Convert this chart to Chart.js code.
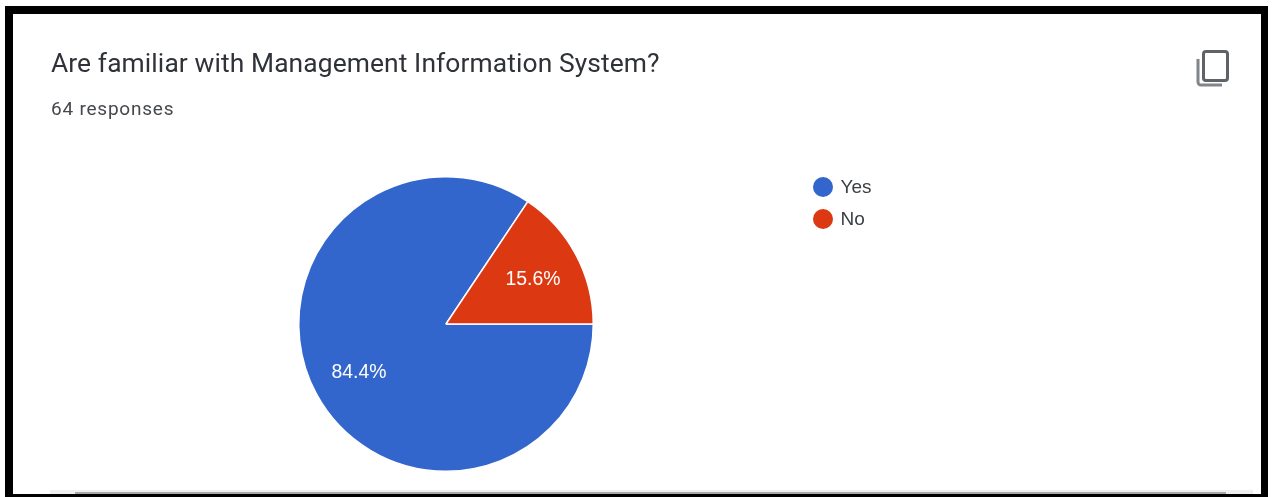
<!DOCTYPE html>
<html>
<head>
<meta charset="utf-8">
<title>Survey response</title>
<script src="https://cdn.jsdelivr.net/npm/chart.js@4"></script>
<style>
  html, body { margin: 0; padding: 0; background: #fff; }
  body { position: relative; width: 1272px; height: 497px; overflow: hidden; font-family: Roboto, sans-serif; }
  #frame { position: absolute; left: 5px; top: 6px; border: solid #000; border-width: 8px 7px 3px 8px; box-sizing: content-box; width: 1248px; height: 480px; }
  #chart { position: absolute; left: 0; top: 0; }
  #title { position: absolute; left: 51px; top: 47px; font-size: 26.4px; line-height: 32px; color: #2f3237; white-space: nowrap; letter-spacing: 0.1px; }
  #count { position: absolute; left: 51px; top: 97px; font-size: 19px; line-height: 24px; color: #45484d; white-space: nowrap; letter-spacing: 0.78px; }
  #copy { position: absolute; left: 1195px; top: 49px; }
  #legend { position: absolute; left: 812.5px; top: 170.5px; font-size: 19px; font-family: "Liberation Sans", Arial, sans-serif; color: #3c4043; }
  .row { display: flex; align-items: center; height: 32px; }
  .dot { width: 20px; height: 20px; border-radius: 50%; margin-right: 8px; }
  #rule { position: absolute; left: 50px; top: 490px; width: 1203px; height: 4px; background: #efefef; }
  #rule div { position: absolute; left: 25px; top: 2px; width: 1151px; height: 2px; background: #a9a9a9; }
</style>
</head>
<body>
<canvas id="chart" width="1272" height="497"></canvas>
<div id="frame"></div>
<div id="title">Are familiar with Management Information System?</div>
<div id="count">64 responses</div>
<svg id="copy" width="36" height="40" viewBox="0 0 36 40" fill="none">
  <rect x="8.5" y="2.5" width="24" height="29" rx="2.5" stroke="#5f6368" stroke-width="3"></rect>
  <path d="M3 10 V33 a3 3 0 0 0 3 3 H27" stroke="#80868b" stroke-width="3"></path>
</svg>
<div id="legend"></div>
<div id="rule"><div></div></div>
<script>
const categories = ['Yes', 'No'];
const responses = [54, 10];
const percentLabels = ['84.4%', '15.6%'];
const sliceColors = ['#3366cc', '#dc3912'];

// Writes each slice's percentage inside the slice, about two thirds of the way out.
const sliceLabels = {
  id: 'sliceLabels',
  afterDatasetsDraw(chart) {
    const { ctx } = chart;
    chart.getDatasetMeta(0).data.forEach((arc, i) => {
      const { startAngle, endAngle, outerRadius, x, y } = arc.getProps(['startAngle', 'endAngle', 'outerRadius', 'x', 'y'], true);
      const mid = (startAngle + endAngle) / 2;
      const r = outerRadius * 0.67;
      ctx.save();
      ctx.fillStyle = '#fff';
      ctx.font = '19.4px "Liberation Sans", Arial, sans-serif';
      ctx.textAlign = 'center';
      ctx.textBaseline = 'middle';
      ctx.fillText(percentLabels[i], x + Math.cos(mid) * r, y + Math.sin(mid) * r + 2);
      ctx.restore();
    });
  }
};

const chart = new Chart(document.getElementById('chart'), {
  type: 'pie',
  data: {
    labels: categories,
    datasets: [{
      data: responses,
      backgroundColor: sliceColors,
      borderColor: '#ffffff',
      borderWidth: 1.5
    }]
  },
  options: {
    responsive: false,
    animation: false,
    rotation: 90,
    layout: { padding: { left: 298, top: 176, right: 678, bottom: 25 } },
    plugins: { legend: { display: false }, tooltip: { enabled: false } }
  },
  plugins: [sliceLabels]
});

// Legend rows built from the chart's own label items.
const legendBox = document.getElementById('legend');
Chart.overrides.pie.plugins.legend.labels.generateLabels(chart).forEach(item => {
  const row = document.createElement('div');
  row.className = 'row';
  const dot = document.createElement('span');
  dot.className = 'dot';
  dot.style.background = item.fillStyle;
  row.appendChild(dot);
  row.appendChild(document.createTextNode(item.text));
  legendBox.appendChild(row);
});
</script>
</body>
</html>
